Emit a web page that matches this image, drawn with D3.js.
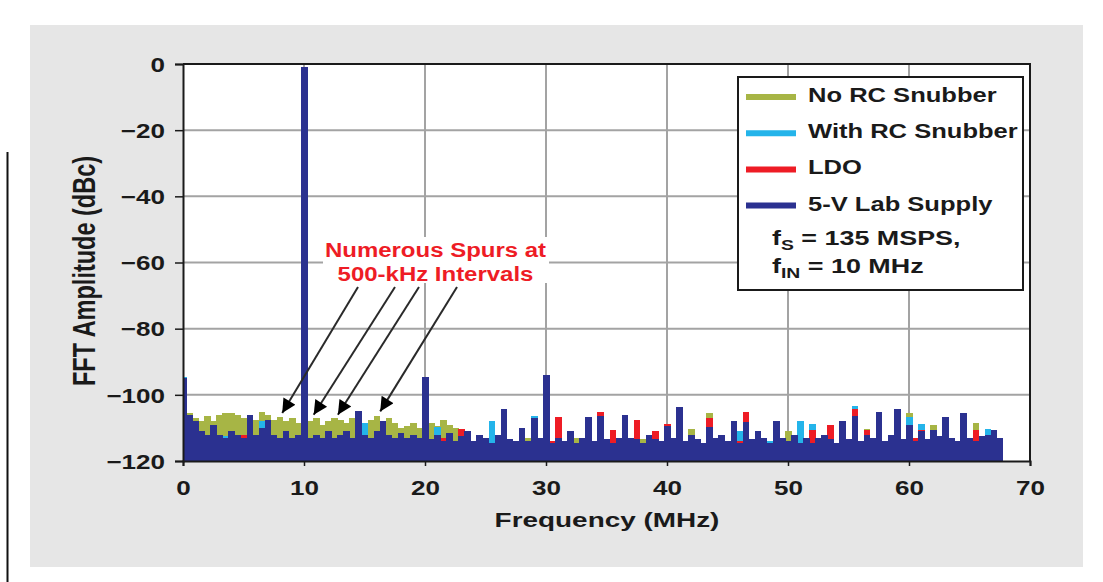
<!DOCTYPE html>
<html><head><meta charset="utf-8">
<script src="https://cdn.jsdelivr.net/npm/d3@7"></script>
<style>
html,body{margin:0;padding:0;background:#fff;}
svg{display:block;font-family:"Liberation Sans",Arial,Helvetica,sans-serif;font-weight:bold;}
</style></head>
<body>
<svg id="chart" width="1103" height="582"></svg>
<script>
// ---- data (FFT bins every 0.5 MHz, 0 .. 67.5 MHz), amplitude in dBc ----
const binWidthMHz = 0.5;
const seriesNames = ["No RC Snubber", "With RC Snubber", "LDO", "5-V Lab Supply"];
const noSnubber = [
 -100,-105.5,-107,-108,-106.5,-108,-106,-105.5,-105.5,-106,
 -107,-108,-107.5,-105.2,-106,-107.5,-106.7,-108,-107,-108.5,
 -110,-108,-107,-109,-108,-107,-107.5,-108.5,-107,-108,
 -109,-107.5,-106.5,-108,-107,-108.5,-110,-109.5,-108.5,-110,
 -111,-108.5,-109.5,-107.5,-109,-110,-112,-113,-115,-114,
 -115,-113.5,-115,-115.5,-114,-115,-116,-113,-115,-115.5,
 -116,-115,-114,-116,-115,-113,-115,-116,-115,-115,
 -116,-115,-114.5,-116,-115,-115.5,-113.5,-115,-116,-115,
 -115,-116,-115,-114.5,-110.3,-115,-115.5,-105.6,-115,-113,
 -115,-116,-115,-115,-114.5,-116,-115,-115,-116,-115,
 -110.8,-115,-115.5,-114,-115,-116,-113.5,-115,-116,-115,
 -115,-116,-115,-110.3,-115.5,-115,-114,-116,-115,-113.5,
 -105.6,-115,-116,-115,-109.2,-115,-114,-115,-116,-115,
 -115,-108.6,-115,-116,-115,-114
];
const withSnubber = [
 -94.5,-109,-113,-114,-115,-114,-115,-112.5,-114,-115,
 -114,-115,-113,-108,-114,-115,-114,-115,-113.5,-115,
 -115,-114,-115,-114,-115,-116,-114,-115,-113.5,-114,
 -108.5,-115,-114,-115,-116,-114,-115,-114,-115,-116,
 -115,-114,-109.7,-115,-112,-115.5,-114,-115,-116,-114,
 -115,-108,-115.5,-114,-115,-116,-114,-115,-106.4,-115,
 -116,-115,-115.5,-114,-116,-115,-114,-115,-116,-115,
 -115,-114,-116,-115,-114.5,-115,-116,-115,-114,-115,
 -116,-114,-115,-116,-115,-114,-115,-116,-115,-114,
 -115,-114,-111,-115,-116,-111.2,-115,-114,-116,-115,
 -115,-114,-107.8,-115,-108.8,-115,-114,-116,-115,-114,
 -115,-103.4,-115,-114,-116,-115,-114,-115,-115.5,-114,
 -106.7,-115,-108.8,-116,-115,-114,-115,-116,-114,-115,
 -115,-116,-114,-110.3,-115,-116
];
const ldo = [
 -96,-110,-108,-113,-114,-115,-113.5,-114,-115,-114,
 -112,-115,-112,-114,-115,-114,-113.5,-115,-114,-115,
 -115,-114,-115,-116,-114,-115,-114,-116,-115,-114,
 -115,-114,-116,-115,-114,-115,-116,-114,-115,-116,
 -115,-116,-114,-113,-115,-114,-110.3,-115,-116,-114,
 -115,-116,-114,-115,-114,-116,-115,-114,-115,-116,
 -115,-114,-106.7,-115,-114,-116,-115,-114,-115,-105.2,
 -114,-110.6,-115,-114,-116,-107.6,-115,-114,-110.8,-115,
 -108.8,-115,-114,-116,-115,-114,-115,-107,-116,-114,
 -115,-116,-114,-105.2,-115,-114,-116,-115,-114,-115,
 -116,-114,-115,-116,-110.6,-115,-114,-109.2,-115,-116,
 -114,-104.3,-115,-110.6,-116,-114,-115,-116,-114,-115,
 -116,-113,-110.6,-115,-116,-114,-115,-116,-114,-115,
 -116,-110.6,-115,-113,-114.5,-116
];
const labSupply = [
 -95,-106,-108,-111,-112,-109,-112,-113,-111,-112,
 -113,-106,-112,-110,-107.5,-112,-113,-111,-113,-112,
 -1,-113,-112,-113,-111,-113,-112,-111,-113,-105,
 -112,-113,-111,-108,-112,-113,-111.5,-113,-112,-113,
 -94.5,-113.5,-112,-114,-111.5,-114,-112.5,-111,-114,-112,
 -113,-114.5,-112,-104.3,-113.5,-114,-110,-114,-107,-113,
 -94,-114.5,-113,-114,-111,-114.5,-113,-106.7,-114,-106.4,
 -113.5,-114.5,-113,-106.2,-113,-113.5,-114.5,-112,-113.5,-114,
 -109.5,-113,-103.6,-114,-112,-113.5,-114.5,-109.8,-113,-112,
 -114,-108,-114.5,-108.2,-113.5,-110.8,-113,-114.5,-107.8,-113,
 -114,-112,-114.5,-113,-114.5,-113,-112,-113.5,-114.5,-107.8,
 -113.5,-106.4,-114,-112,-113,-105.2,-114,-112,-104.3,-113.5,
 -109,-114,-111,-113.5,-110.5,-112.5,-106.8,-113,-114,-105.6,
 -113,-114,-112.5,-112,-110.5,-113
];
const seriesValues = [noSnubber, withSnubber, ldo, labSupply];
const seriesColors = ["#a7b545", "#24b4ea", "#ee1c25", "#2b3190"];
const xTicks = [0,10,20,30,40,50,60,70];
const yTicks = [0,-20,-40,-60,-80,-100,-120];
const noteLines = ["Numerous Spurs at", "500-kHz Intervals"];
const noteTargets = [8.2, 10.8, 12.8, 16.3];      // MHz at arrow tips
const noteTargetLevel = [-105.5, -106, -106, -105]; // dBc at arrow tips
const infoLines = [["f","S"," = 135 MSPS,"],["f","IN"," = 10 MHz"]];

// ---- layout ----
const svg = d3.select("#chart");
const P = {l:183, r:1030, t:64, b:461};
const x = d3.scaleLinear().domain([0,70]).range([P.l,P.r]);
const y = d3.scaleLinear().domain([-120,0]).range([P.b,P.t]);

// left frame line and gray panel
svg.append("line").attr("x1",7.5).attr("x2",7.5).attr("y1",152).attr("y2",582).attr("stroke","#111").attr("stroke-width",2);
svg.append("rect").attr("x",30).attr("y",25).attr("width",1053).attr("height",542).attr("fill","#e6e6e6");
svg.append("rect").attr("x",P.l).attr("y",P.t).attr("width",P.r-P.l).attr("height",P.b-P.t).attr("fill","#fff");

// grid
const grid = svg.append("g").attr("stroke","#a3a3a3").attr("stroke-width",2);
grid.selectAll(".gx").data(xTicks.filter(d=>d>0&&d<70)).join("line")
  .attr("x1",d=>x(d)).attr("x2",d=>x(d)).attr("y1",P.t).attr("y2",P.b);
grid.selectAll(".gy").data(yTicks.filter(d=>d<0&&d>-120)).join("line")
  .attr("x1",P.l).attr("x2",P.r).attr("y1",d=>y(d)).attr("y2",d=>y(d));

// bars
svg.append("clipPath").attr("id","plotclip").append("rect")
  .attr("x",P.l).attr("y",P.t).attr("width",P.r-P.l).attr("height",P.b-P.t);
const bw = x(binWidthMHz)-x(0);
const barsG = svg.append("g").attr("clip-path","url(#plotclip)").attr("shape-rendering","crispEdges");
seriesValues.forEach((vals,si)=>{
  barsG.append("g").attr("fill",seriesColors[si]).selectAll("rect").data(vals).join("rect")
    .attr("x",(d,i)=>x(i*binWidthMHz)-bw/2)
    .attr("width",bw+0.6)
    .attr("y",d=>y(d))
    .attr("height",d=>y(-120)-y(d));
});

// note background + text
const noteG = svg.append("g");
noteG.append("rect").attr("x",323).attr("y",237).attr("width",226).attr("height",46).attr("fill","#fff");
function stretchedText(parent,xx,yy,str,size,sx,anchor,fill){
  const g = parent.append("g").attr("transform",`translate(${xx},${yy}) scale(${sx},1)`);
  return g.append("text").attr("font-size",size).attr("text-anchor",anchor).attr("fill",fill).text(str);
}
noteLines.forEach((s,i)=>stretchedText(noteG,435.5,257+i*24,s,19.5,1.23,"middle","#ee1c25"));

// arrows
const defs = svg.append("defs");
defs.append("marker").attr("id","ah").attr("viewBox","0 0 10 10").attr("refX",10).attr("refY",5)
  .attr("markerWidth",17).attr("markerHeight",14).attr("markerUnits","userSpaceOnUse").attr("orient","auto")
  .append("path").attr("d","M0,0L10,5L0,10Z").attr("fill","#000");
const starts = [358,395,419,457];
noteTargets.forEach((f,i)=>{
  svg.append("line").attr("x1",starts[i]).attr("y1",287).attr("x2",x(f)).attr("y2",y(noteTargetLevel[i]))
    .attr("stroke","#2a2a2a").attr("stroke-width",2).attr("marker-end","url(#ah)");
});

// frame
svg.append("path").attr("d",`M${P.l},${P.t}H${P.r}V${P.b}`).attr("fill","none").attr("stroke","#1a1a1a").attr("stroke-width",2);

// axes
const yAxis = svg.append("g").attr("transform",`translate(${P.l},0)`)
  .call(d3.axisLeft(y).tickValues(yTicks).tickSize(8).tickPadding(0).tickFormat(d3.format("d")));
yAxis.select(".domain").attr("stroke","#1a1a1a").attr("stroke-width",2);
yAxis.selectAll(".tick line").attr("stroke","#1a1a1a").attr("stroke-width",1.5);
yAxis.selectAll(".tick text").attr("font-size",20.5).attr("font-family","Liberation Sans, Arial, sans-serif")
  .attr("font-weight","bold").attr("fill","#1a1a1a")
  .attr("x",-18/1.27).attr("dy","0.35em").attr("transform","scale(1.27,1)");

const xAxis = svg.append("g").attr("transform",`translate(0,${P.b})`)
  .call(d3.axisBottom(x).tickValues(xTicks).tickSize(5).tickFormat(d3.format("d")));
xAxis.select(".domain").attr("stroke","#1a1a1a").attr("stroke-width",2);
xAxis.selectAll(".tick line").attr("stroke","#1a1a1a").attr("stroke-width",1.5);
xAxis.selectAll(".tick text").attr("font-size",20.5).attr("font-family","Liberation Sans, Arial, sans-serif")
  .attr("font-weight","bold").attr("fill","#1a1a1a")
  .attr("y",34).attr("dy",0).attr("transform","scale(1.27,1)");

// axis titles
stretchedText(svg,607,527,"Frequency (MHz)",21,1.33,"middle","#1a1a1a");
svg.append("g").attr("transform",`translate(95,271) scale(1.3,1) rotate(-90)`)
  .append("text").attr("font-size",23.5).attr("text-anchor","middle").attr("fill","#1a1a1a").text("FFT Amplitude (dBc)");

// legend
const lg = svg.append("g");
lg.append("rect").attr("x",738).attr("y",77).attr("width",285).attr("height",213)
  .attr("fill","#fff").attr("stroke","#1a1a1a").attr("stroke-width",2);
seriesNames.forEach((n,i)=>{
  const yy = 97 + i*36.2;
  lg.append("line").attr("x1",746).attr("x2",796).attr("y1",yy).attr("y2",yy)
    .attr("stroke",seriesColors[i]).attr("stroke-width",6);
  stretchedText(lg,808,yy+5,n,19.5,1.31,"start","#1a1a1a");
});
infoLines.forEach((parts,i)=>{
  const g = lg.append("g").attr("transform",`translate(772,${245+i*28}) scale(1.38,1)`);
  const t = g.append("text").attr("font-size",19.5).attr("fill","#1a1a1a");
  t.append("tspan").text(parts[0]);
  t.append("tspan").attr("font-size",14).attr("dy",5).text(parts[1]);
  t.append("tspan").attr("dy",-5).text(parts[2]);
});
</script>
</body></html>
